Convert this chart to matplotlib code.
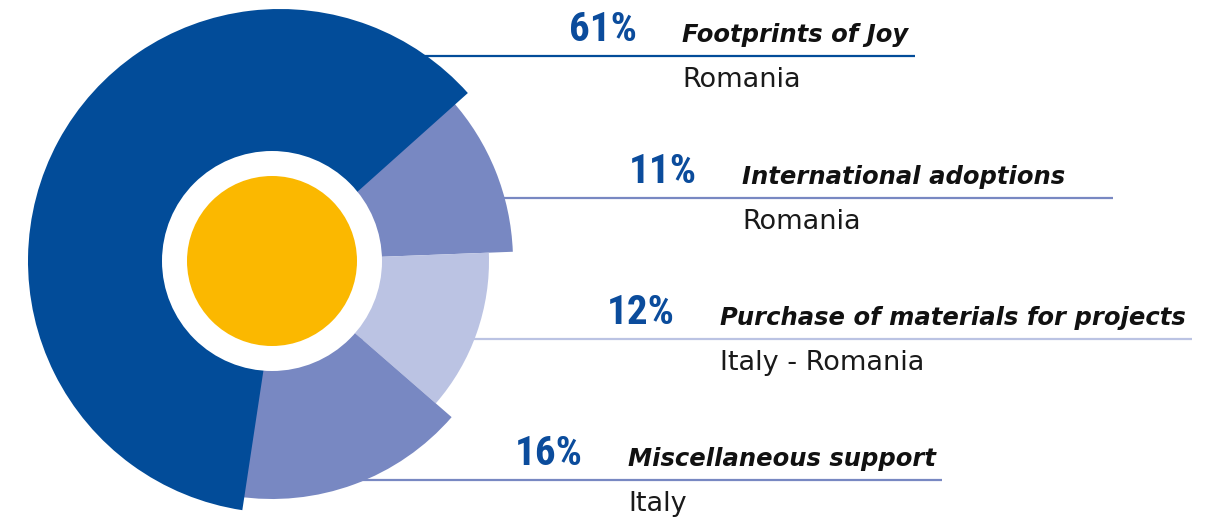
import matplotlib
matplotlib.use('Agg')
import matplotlib.pyplot as plt
from matplotlib.patches import Wedge, Circle

# --- # data
shares = [11, 12, 16, 61]
titles = ['International adoptions', 'Purchase of materials for projects',
          'Miscellaneous support', 'Footprints of Joy']
places = ['Romania', 'Italy - Romania', 'Italy', 'Romania']

# --- # style / layout (pixels, y from top)
colors = ['#7888c2', '#bbc3e3', '#7888c2', '#024c99']
outer_r = [241, 217, 238, 252]
centers = [(272, 261), (272, 261), (272, 261), (280, 261)]  # big slice sits a bit to the right
cx, cy = 272, 261
hole_r = 110
sun_r = 85
start = 41.8  # screen angle where the 11% slice starts, going clockwise

# label rows, drawn top to bottom: 61, 11, 12, 16
row_order = [3, 0, 1, 2]
row_y = [56, 198, 339, 480]
row_x = [682, 742, 720, 628]
row_end = [915, 1113, 1192, 942]

W, H = 1220, 522
fig = plt.figure(figsize=(W / 100, H / 100), dpi=100)
ax = fig.add_axes([0, 0, 1, 1])
ax.set_xlim(0, W)
ax.set_ylim(H, 0)
ax.set_aspect('equal')
ax.axis('off')

# --- # slices (y axis inverted -> negate angles)
a = start
for i, (share, col, r) in enumerate(zip(shares, colors, outer_r)):
    a2 = a - share * 3.6
    z = 4 if share == max(shares) else 3
    ax.add_patch(Wedge(centers[i], r, -a, -a2,
                       facecolor=col, edgecolor='none', zorder=z))
    a = a2
ax.add_patch(Circle((cx, cy), hole_r, facecolor='white', edgecolor='none', zorder=5))
ax.add_patch(Circle((cx, cy), sun_r, facecolor='#fbb800', edgecolor='none', zorder=6))

# --- # labels
pct_font = ['Roboto Condensed', 'Liberation Sans Narrow', 'Roboto']
for i, k in enumerate(row_order):
    y = row_y[i]
    x = row_x[i]
    ax.plot([cx, row_end[i]], [y, y], color=colors[k], lw=1.6,
            solid_capstyle='butt', zorder=1)
    ax.text(x - 45, y - 15, f'{shares[k]}%', ha='right', va='baseline',
            fontsize=29.5, fontweight='bold', color='#0b4c9c', family=pct_font)
    ax.text(x, y - 14, titles[k], ha='left', va='baseline', fontsize=17.5,
            fontweight='bold', fontstyle='italic', color='#111111',
            family='DejaVu Sans')
    ax.text(x, y + 31, places[k], ha='left', va='baseline', fontsize=19.5,
            color='#1a1a1a', family='DejaVu Sans')

fig.savefig('out.png', dpi=100)
